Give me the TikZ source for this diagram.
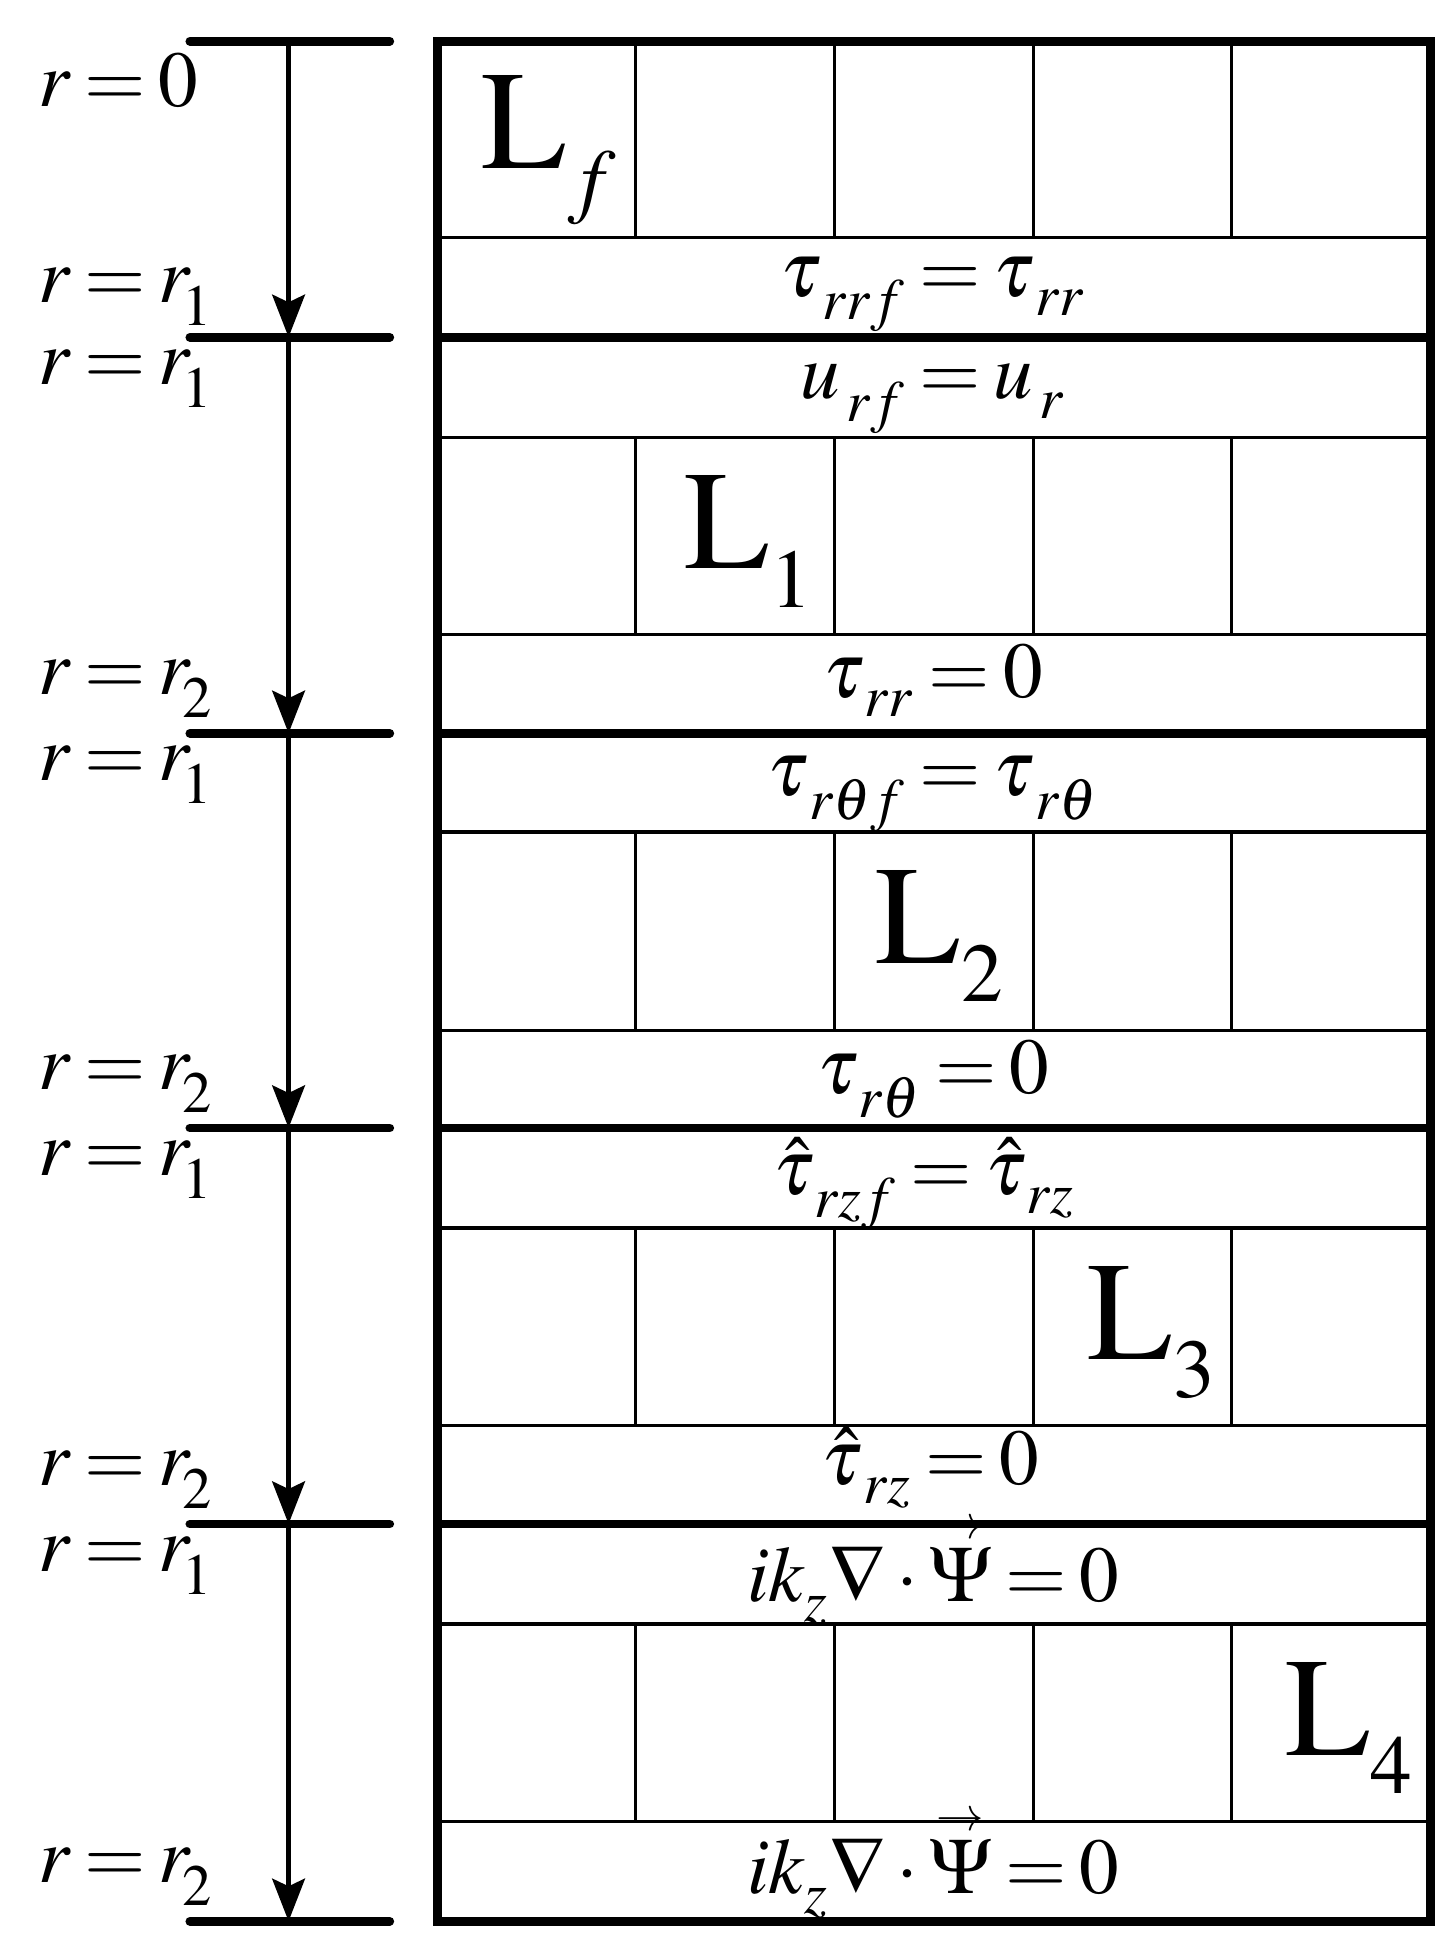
\documentclass[tikz,border=0pt]{standalone}
\usepackage[T1]{fontenc}
\usepackage{mathptmx}
\usetikzlibrary{arrows.meta}
\newcommand{\arrowvec}[1]{\mathord{\hbox{\ooalign{$#1$\cr\hidewidth\raisebox{0.80em}{$\scriptscriptstyle\rightarrow$}\hidewidth\cr}}}}
\newcommand{\lsub}[1]{_{\lower4pt\hbox{\fontsize{19}{21}\selectfont$#1$}}}
\newcommand{\eqfont}{\fontsize{18}{22}\selectfont\thickmuskip=3mu\relax}
\tikzset{
  thinln/.style={line width=0.7pt},
  thickln/.style={line width=2pt},
  tickln/.style={line width=2pt,line cap=round},
  downarr/.style={line width=1.3pt,-{Stealth[length=3.4mm,width=2.6mm,inset=0.6mm]}},
  rlab/.style={anchor=base west,inner sep=0pt,font=\eqfont},
  bceq/.style={anchor=base,inner sep=0pt,font=\eqfont},
  layer/.style={anchor=base west,inner sep=0pt,font=\fontsize{32}{38}\selectfont},
}
\begin{document}
\begin{tikzpicture}
        \useasboundingbox (0,0) rectangle (11.64,-15.57);
        \foreach \n/\y in {0/0.33,1/2.70,2/5.87,3/9.03,4/12.20,5/15.38}{
          \coordinate (tl\n) at (1.52,-\y);\coordinate (tr\n) at (3.12,-\y);\coordinate (tm\n) at (2.31,-\y);
        }
        \foreach \n in {0,...,5} \draw[tickln] (tl\n) -- (tr\n);
        \draw[downarr] (tm0) -- (tm1);
        \draw[downarr] (tm1) -- (tm2);
        \draw[downarr] (tm2) -- (tm3);
        \draw[downarr] (tm3) -- (tm4);
        \draw[downarr] (tm4) -- (tm5);
        \node[rlab] (r0) at (0.30,-0.85) {$r=0$};
        \node[rlab] (r1a) at (0.30,-2.42) {$r=r^{}_{\!1}$};
        \node[rlab] (r1b) at (0.30,-3.08) {$r=r^{}_{\!1}$};
        \node[rlab] (r2b) at (0.30,-5.56) {$r=r^{}_{\!2}$};
        \node[rlab] (r1c) at (0.30,-6.25) {$r=r^{}_{\!1}$};
        \node[rlab] (r2c) at (0.30,-8.72) {$r=r^{}_{\!2}$};
        \node[rlab] (r1d) at (0.30,-9.41) {$r=r^{}_{\!1}$};
        \node[rlab] (r2d) at (0.30,-11.89) {$r=r^{}_{\!2}$};
        \node[rlab] (r1e) at (0.30,-12.58) {$r=r^{}_{\!1}$};
        \node[rlab] (r2e) at (0.30,-15.07) {$r=r^{}_{\!2}$};
        \foreach \a/\b in {0.33/1.90,3.50/5.08,6.66/8.25,9.83/11.41,13.00/14.58}
          \foreach \x in {5.09,6.68,8.27,9.86} \draw[thinln] (\x,-\a) -- (\x,-\b);
        \foreach \y in {1.90,3.50,5.08,6.66,8.25,9.83,11.41,13.00,14.58} \draw[thinln] (3.50,-\y) -- (11.45,-\y);
        \foreach \y in {2.70,5.87,9.03,12.20} \draw[thickln] (3.50,-\y) -- (11.45,-\y);
        \draw[thickln] (3.50,-0.33) rectangle (11.45,-15.38);
        \node[layer] (Lf) at (3.85,-1.35) {$\mathrm{L}\lsub{f}$};
        \node[layer] (L1) at (5.47,-4.55) {$\mathrm{L}\lsub{1}$};
        \node[layer] (L2) at (7.00,-7.71) {$\mathrm{L}\lsub{2}$};
        \node[layer] (L3) at (8.70,-10.88) {$\mathrm{L}\lsub{3}$};
        \node[layer] (L4) at (10.28,-14.05) {$\mathrm{L}\lsub{4}$};
        \node[bceq] (taurr) at (7.47,-2.37) {$\tau^{}_{\mkern2mu rrf}=\tau^{}_{\mkern2mu rr}$};
        \node[bceq] (ur) at (7.47,-3.19) {$u^{}_{\mkern2mu rf}=u^{}_{\mkern2mu r}$};
        \node[bceq] (taurr0) at (7.47,-5.58) {$\tau^{}_{\mkern2mu rr}=0$};
        \node[bceq] (taurt) at (7.47,-6.37) {$\tau^{}_{\mkern2mu r\theta f}=\tau^{}_{\mkern2mu r\theta}$};
        \node[bceq] (taurt0) at (7.47,-8.75) {$\tau^{}_{\mkern2mu r\theta}=0$};
        \node[bceq] (taurz) at (7.40,-9.56) {$\hat{\tau}^{}_{\mkern2mu rzf}=\hat{\tau}^{}_{\mkern2mu rz}$};
        \node[bceq] (taurz0) at (7.45,-11.88) {$\hat{\tau}^{}_{\mkern2mu rz}=0$};
        \node[bceq] (psi1) at (7.47,-12.82) {$ik^{}_z\nabla\cdot\arrowvec{\Psi}=0$};
        \node[bceq] (psi2) at (7.47,-15.16) {$ik^{}_z\nabla\cdot\arrowvec{\Psi}=0$};
\end{tikzpicture}
\end{document}
